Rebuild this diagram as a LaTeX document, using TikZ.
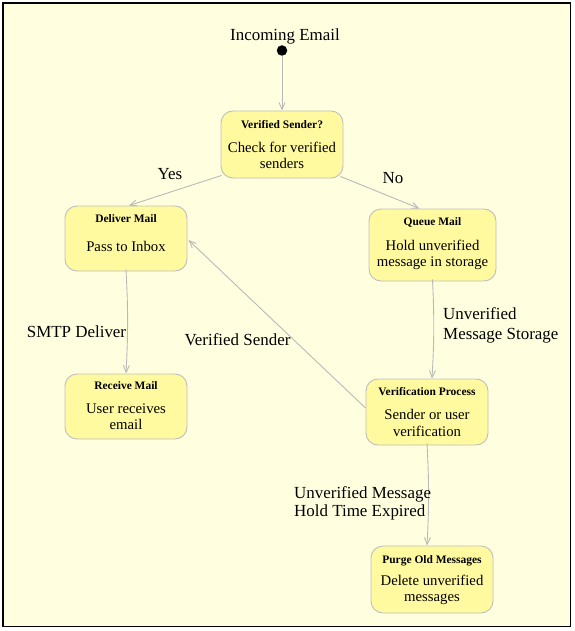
\documentclass[tikz,border=0pt]{standalone}
\usepackage{fontspec}
\setmainfont{Liberation Serif}
\usetikzlibrary{arrows.meta}
\definecolor{bgcol}{RGB}{255,255,224}
\definecolor{boxfill}{RGB}{255,250,160}
\definecolor{boxline}{RGB}{190,190,190}
\definecolor{edgecol}{RGB}{185,185,185}
\tikzset{
  statebox/.style={draw=boxline, fill=boxfill, line width=0.9bp, rounded corners=12bp, inner sep=0pt},
  titletext/.style={inner sep=0pt, yshift=-1.5bp, font=\fontsize{11.5}{13}\selectfont\bfseries, text height=0.7em, text depth=0.2em},
  bodytext/.style={inner sep=0pt, yshift=-1.5bp, align=center, font=\fontsize{14.8}{16.5}\selectfont},
  labeltext/.style={inner sep=0pt, yshift=-2.5bp, font=\fontsize{17}{19}\selectfont},
  edge/.style={draw=edgecol, line width=0.9bp, -{Straight Barb[length=7bp,width=6bp]}},
}
\begin{document}
\begin{tikzpicture}[x=1bp,y=-1bp]
\useasboundingbox (0,0) rectangle (575,631);
\fill[white] (0,0) rectangle (575,631);
\draw[fill=bgcol, line width=1.4bp] (3,3) rectangle (570.5,626.5);

% initial
\node[labeltext, text height=0.7em, text depth=0.2em] (intitle) at (285,36) {Incoming Email};
\node[circle, fill=black, inner sep=0pt, minimum size=10.5bp] (init) at (282,50.5) {};

% states
\node[statebox, minimum width=122bp, minimum height=67bp] (vs) at (282,144.5) {};
\node[titletext] (vst) at (282,125) {Verified Sender?};
\node[bodytext] (vsb) at (282,154) {Check for verified\\senders};

\node[statebox, minimum width=122bp, minimum height=65bp] (dm) at (126,238.5) {};
\node[titletext] (dmt) at (126,219) {Deliver Mail};
\node[bodytext, text height=0.7em, text depth=0.2em] (dmb) at (126,248) {Pass to Inbox};

\node[statebox, minimum width=127bp, minimum height=72bp] (qm) at (432.5,245) {};
\node[titletext] (qmt) at (432.5,222) {Queue Mail};
\node[bodytext] (qmb) at (432.5,253.5) {Hold unverified\\message in storage};

\node[statebox, minimum width=122bp, minimum height=65bp] (rm) at (126,406.5) {};
\node[titletext] (rmt) at (126,386) {Receive Mail};
\node[bodytext] (rmb) at (126,415) {User receives\\email};

\node[statebox, minimum width=122bp, minimum height=66bp] (vp) at (427,412) {};
\node[titletext] (vpt) at (427,392) {Verification Process};
\node[bodytext] (vpb) at (427,421.5) {Sender or user\\verification};

\node[statebox, minimum width=122bp, minimum height=67bp] (po) at (432,579.5) {};
\node[titletext] (pot) at (432,560) {Purge Old Messages};
\node[bodytext] (pob) at (432,588.5) {Delete unverified\\messages};

% edges
\draw[edge] (init) -- (vs);
\draw[edge] ([shift={(1,-3)}]vs.south west) -- ([shift={(3,0)}]dm.north);
\draw[edge] ([shift={(-3,-2)}]vs.south east) -- ([shift={(-13,0)}]qm.north);
\draw[edge] ([yshift=2]dm.south) to[bend left=3] (rm.north);
\draw[edge] ([yshift=2]qm.south) to[bend left=3] ([xshift=5]vp.north);
\draw[edge] ([shift={(0,-4)}]vp.west) -- ([shift={(1,1.5)}]dm.east);
\draw[edge] ([yshift=2]vp.south) to[bend left=3] ([xshift=-5]po.north);

% labels
\node[labeltext, text height=0.7em, text depth=0.2em] (lyes) at (170,175) {Yes};
\node[labeltext, text height=0.7em, text depth=0.2em] (lno) at (393,179) {No};
\node[labeltext, text height=0.7em, text depth=0.2em] (lsmtp) at (76.5,333) {SMTP Deliver};
\node[labeltext, text height=0.7em, text depth=0.2em] (lvs) at (237.5,341) {Verified Sender};
\node[labeltext, align=left, anchor=west, font=\fontsize{17}{20}\selectfont] (lums) at (443,323) {Unverified\\Message Storage};
\node[labeltext, align=left, anchor=west, font=\fontsize{17}{18}\selectfont] (lhold) at (294,501) {Unverified Message\\Hold Time Expired};
\end{tikzpicture}
\end{document}
